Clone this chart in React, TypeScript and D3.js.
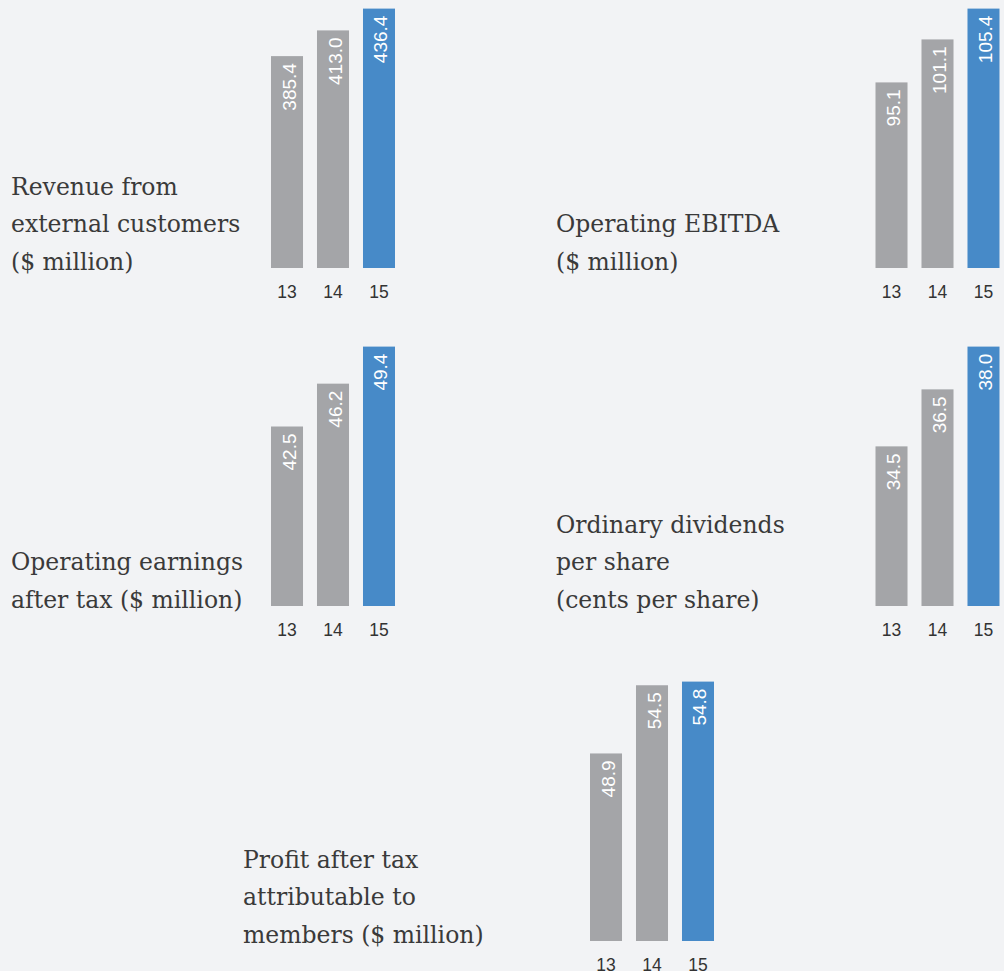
import React, { useEffect } from "react";
import * as d3 from "d3";

// years on the x axis of every small chart
const years = ["13", "14", "15"];

// one array per chart
const revenue = [385.4, 413.0, 436.4];
const ebitda = [95.1, 101.1, 105.4];
const earnings = [42.5, 46.2, 49.4];
const dividends = [34.5, 36.5, 38.0];
const profit = [48.9, 54.5, 54.8];

const titles = [
  ["Revenue from", "external customers", "($ million)"],
  ["Operating EBITDA", "($ million)"],
  ["Operating earnings", "after tax ($ million)"],
  ["Ordinary dividends", "per share", "(cents per share)"],
  ["Profit after tax", "attributable to", "members ($ million)"],
];

// the bars are not drawn from zero: each chart starts its axis here
const scaleFloors = [158, 69.2, 27, 28.9, 33.5];

const series = [revenue, ebitda, earnings, dividends, profit];

const W = 1004;
const H = 971;
const BAR_MAX = 259.4;
const LINE_H = 37.5;

const layout = [
  { barX: 271, base: 268, labelX: 11 },
  { barX: 875.5, base: 268, labelX: 556 },
  { barX: 271, base: 606, labelX: 11 },
  { barX: 875.5, base: 606, labelX: 556 },
  { barX: 590, base: 941, labelX: 243 },
];

const GREY = "#a4a5a8";
const BLUE = "#478ac8";
const fmt = d3.format(".1f");

const Panel: React.FC<{ i: number }> = ({ i }) => {
  const { barX, base, labelX } = layout[i];
  const values = series[i];
  const x = d3.scaleBand<string>().domain(years).range([barX, barX + 124]).paddingInner(0.304).paddingOuter(0);
  const y = d3.scaleLinear().domain([scaleFloors[i], d3.max(values) as number]).range([base, base - BAR_MAX]);
  const lines = titles[i];
  const lastBaseline = base + 1.5;

  return (
    <g>
      {lines.map((t, k) => (
        <text
          key={k}
          x={labelX}
          y={lastBaseline - (lines.length - 1 - k) * LINE_H}
          fontFamily="'DejaVu Serif', serif"
          fontSize={23.5}
          fill="#3a3a3a"
        >
          {t}
        </text>
      ))}
      {values.map((v, k) => {
        const yr = years[k];
        const bx = x(yr) as number;
        const cx = bx + x.bandwidth() / 2;
        const top = y(v);
        return (
          <g key={yr}>
            <rect x={bx} y={top} width={x.bandwidth()} height={base - top} fill={k === years.length - 1 ? BLUE : GREY} />
            <text
              transform={`translate(${cx},${top}) rotate(-90)`}
              x={-7}
              y={8.5}
              textAnchor="end"
              fontFamily="'Liberation Sans', Arial, sans-serif"
              fontSize={19}
              fill="#ffffff"
            >
              {fmt(v)}
            </text>
            <text
              x={cx}
              y={base + 29.5}
              textAnchor="middle"
              fontFamily="'Liberation Sans', Arial, sans-serif"
              fontSize={17.5}
              fill="#333333"
            >
              {yr}
            </text>
          </g>
        );
      })}
    </g>
  );
};

export default function App() {
  useEffect(() => {
    document.body.style.margin = "0";
  }, []);

  return (
    <svg width={W} height={H} viewBox={`0 0 ${W} ${H}`} style={{ display: "block", background: "#f2f3f5" }}>
      <rect width={W} height={H} fill="#f2f3f5" />
      {series.map((_, i) => (
        <Panel key={i} i={i} />
      ))}
    </svg>
  );
}
